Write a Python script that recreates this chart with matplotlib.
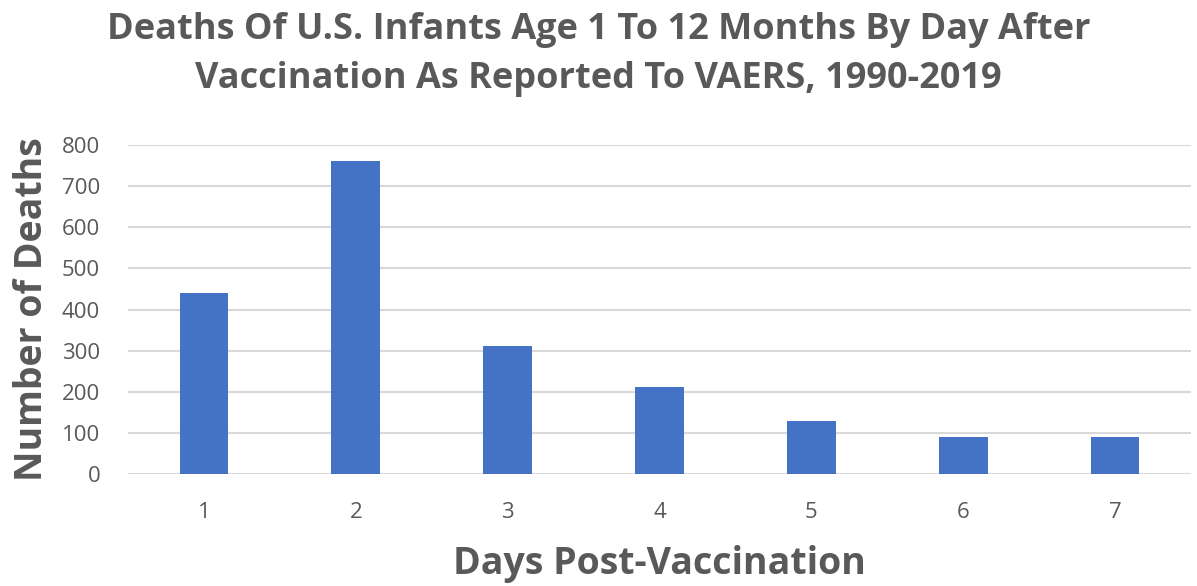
import matplotlib.pyplot as plt
import numpy as np

days = ['1', '2', '3', '4', '5', '6', '7']
deaths = [440, 760, 311, 212, 130, 91, 91]

grey = '#595959'
plt.rcParams['font.family'] = ['Open Sans', 'DejaVu Sans']

fig = plt.figure(figsize=(11.97, 5.86), dpi=100)
ax = fig.add_axes([128/1197, 1 - 474/586, (1191-128)/1197, (474-145)/586])

x = np.arange(len(days))
ax.bar(x, deaths, width=0.32, color='#4472C4', zorder=3)

ax.set_xlim(-0.5, len(days) - 0.5)
ax.set_ylim(0, 800)
ax.set_yticks(range(0, 801, 100))
ax.set_xticks(x)
ax.set_xticklabels(days)
ax.grid(axis='y', color='#D9D9D9', linewidth=1.5, zorder=0)
ax.tick_params(length=0, labelsize=16, colors=grey, pad=20)
ax.tick_params(axis='x', pad=20)
for s in ax.spines.values():
    s.set_visible(False)

ax.set_ylabel('Number of Deaths', fontsize=27, fontweight='bold', color=grey, labelpad=8)
ax.set_xlabel('Days Post-Vaccination', fontsize=27, fontweight='bold', color=grey, labelpad=16)
fig.text(0.5, 0.98, 'Deaths Of U.S. Infants Age 1 To 12 Months By Day After\nVaccination As Reported To VAERS, 1990-2019',
         ha='center', va='top', fontsize=26, fontweight='bold', color=grey, linespacing=1.5)

fig.savefig('out.png', dpi=100)
